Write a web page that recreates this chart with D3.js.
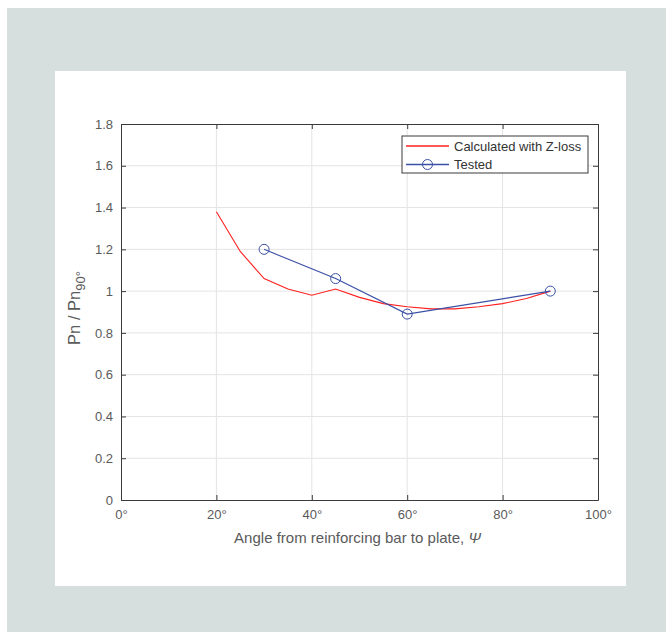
<!DOCTYPE html>
<html>
<head>
<meta charset="utf-8">
<script src="https://cdn.jsdelivr.net/npm/d3@7"></script>
<style>
  html, body { margin: 0; padding: 0; background: #fff; }
  svg { display: block; font-family: "Liberation Sans", Arial, Helvetica, sans-serif; }
</style>
</head>
<body>
<svg id="chart" width="666" height="632"></svg>
<script>
// Calculated capacity ratio (Z-loss model), every 5 degrees
const calcAngle = [20, 25, 30, 35, 40, 45, 50, 55, 60, 65, 70, 75, 80, 85, 90];
const calcRatio = [1.38, 1.19, 1.06, 1.01, 0.98, 1.01, 0.97, 0.94, 0.925, 0.915, 0.915, 0.925, 0.94, 0.965, 1.0];

// Test results
const testAngle = [30, 45, 60, 90];
const testRatio = [1.2, 1.06, 0.89, 1.0];

// Axis ticks
const xTicks = [0, 20, 40, 60, 80, 100];
const yTicks = [0, 0.2, 0.4, 0.6, 0.8, 1, 1.2, 1.4, 1.6, 1.8];

const legendLabels = ["Calculated with Z-loss", "Tested"];

const svg = d3.select("#chart");
const axisColor = "#3a3a3a";
const textColor = "#5a5a5a";
const gridColor = "#e4e4e4";
const redColor = "#ff2020";
const blueColor = "#3a4fa6";

// Page frame
svg.append("rect").attr("x", 7).attr("y", 8).attr("width", 659).attr("height", 624).attr("fill", "#d6dfdd");
svg.append("rect").attr("x", 55).attr("y", 71).attr("width", 571).attr("height", 515).attr("fill", "#fff");

const plot = { left: 121, right: 598, top: 124, bottom: 500 };

const x = d3.scaleLinear().domain([0, 100]).range([plot.left, plot.right]);
const y = d3.scaleLinear().domain([0, 1.8]).range([plot.bottom, plot.top]);

// Grid
const grid = svg.append("g");
grid.selectAll("line.vx").data(xTicks.slice(1, -1)).enter().append("line")
  .attr("x1", d => x(d)).attr("x2", d => x(d))
  .attr("y1", plot.top).attr("y2", plot.bottom)
  .attr("stroke", gridColor).attr("stroke-width", 1);
grid.selectAll("line.hy").data(yTicks.slice(1, -1)).enter().append("line")
  .attr("x1", plot.left).attr("x2", plot.right)
  .attr("y1", d => y(d)).attr("y2", d => y(d))
  .attr("stroke", gridColor).attr("stroke-width", 1);

// Axes with inward ticks on all four sides
const fmtY = d3.format("~g");
function styleAxis(g) {
  g.selectAll("path").attr("stroke", axisColor);
  g.selectAll("line").attr("stroke", axisColor);
  g.selectAll("text").attr("fill", textColor).style("font-size", "13px")
    .style("font-family", "'Liberation Sans', Arial, sans-serif");
}

svg.append("g").attr("transform", `translate(0,${plot.bottom})`)
  .call(d3.axisBottom(x).tickValues(xTicks).tickSizeInner(-5).tickSizeOuter(0).tickPadding(10).tickFormat(d => d + "°"))
  .call(styleAxis);
svg.append("g").attr("transform", `translate(0,${plot.top})`)
  .call(d3.axisTop(x).tickValues(xTicks).tickSizeInner(-5).tickSizeOuter(0).tickFormat(""))
  .call(styleAxis);
svg.append("g").attr("transform", `translate(${plot.left},0)`)
  .call(d3.axisLeft(y).tickValues(yTicks).tickSizeInner(-5).tickSizeOuter(0).tickPadding(8).tickFormat(fmtY))
  .call(styleAxis);
svg.append("g").attr("transform", `translate(${plot.right},0)`)
  .call(d3.axisRight(y).tickValues(yTicks).tickSizeInner(-5).tickSizeOuter(0).tickFormat(""))
  .call(styleAxis);

// Series
const calc = calcAngle.map((a, i) => [a, calcRatio[i]]);
const test = testAngle.map((a, i) => [a, testRatio[i]]);
const line = d3.line().x(d => x(d[0])).y(d => y(d[1]));

svg.append("path").datum(calc).attr("d", line)
  .attr("fill", "none").style("stroke", redColor).attr("stroke-width", 1.1);
svg.append("path").datum(test).attr("d", line)
  .attr("fill", "none").style("stroke", blueColor).attr("stroke-width", 1.1);
svg.selectAll("circle.test").data(test).enter().append("circle")
  .attr("cx", d => x(d[0])).attr("cy", d => y(d[1])).attr("r", 5)
  .attr("fill", "none").style("stroke", blueColor).attr("stroke-width", 1);

// Axis labels
svg.append("text")
  .attr("x", (plot.left + plot.right) / 2 - 2).attr("y", 543)
  .attr("text-anchor", "middle").attr("fill", textColor).style("font-size", "15px")
  .text("Angle from reinforcing bar to plate, ")
  .append("tspan").style("font-style", "italic").text("Ψ");

const yl = svg.append("text")
  .attr("transform", `translate(80,${(plot.top + plot.bottom) / 2 - 4}) rotate(-90)`)
  .attr("text-anchor", "middle").attr("fill", textColor).style("font-size", "16.5px");
yl.append("tspan").text("Pn / Pn");
yl.append("tspan").attr("dy", 5).style("font-size", "13px").text("90°");

// Legend
const lg = svg.append("g");
lg.append("rect").attr("x", 402).attr("y", 136).attr("width", 186).attr("height", 37)
  .attr("fill", "#fff").style("stroke", axisColor).attr("stroke-width", 1);
const legendColors = [redColor, blueColor];
legendLabels.forEach((lab, i) => {
  const ly = 146 + i * 18.5;
  lg.append("path").attr("d", `M406,${ly}H449`)
    .attr("fill", "none").style("stroke", legendColors[i]).attr("stroke-width", 1.5);
  if (i === 1) {
    lg.append("circle").attr("cx", 427.5).attr("cy", ly).attr("r", 5)
      .attr("fill", "none").style("stroke", blueColor).attr("stroke-width", 1);
  }
  lg.append("text").attr("x", 454).attr("y", ly + 4.5)
    .attr("fill", "#333").style("font-size", "13px").text(lab);
});
</script>
</body>
</html>
